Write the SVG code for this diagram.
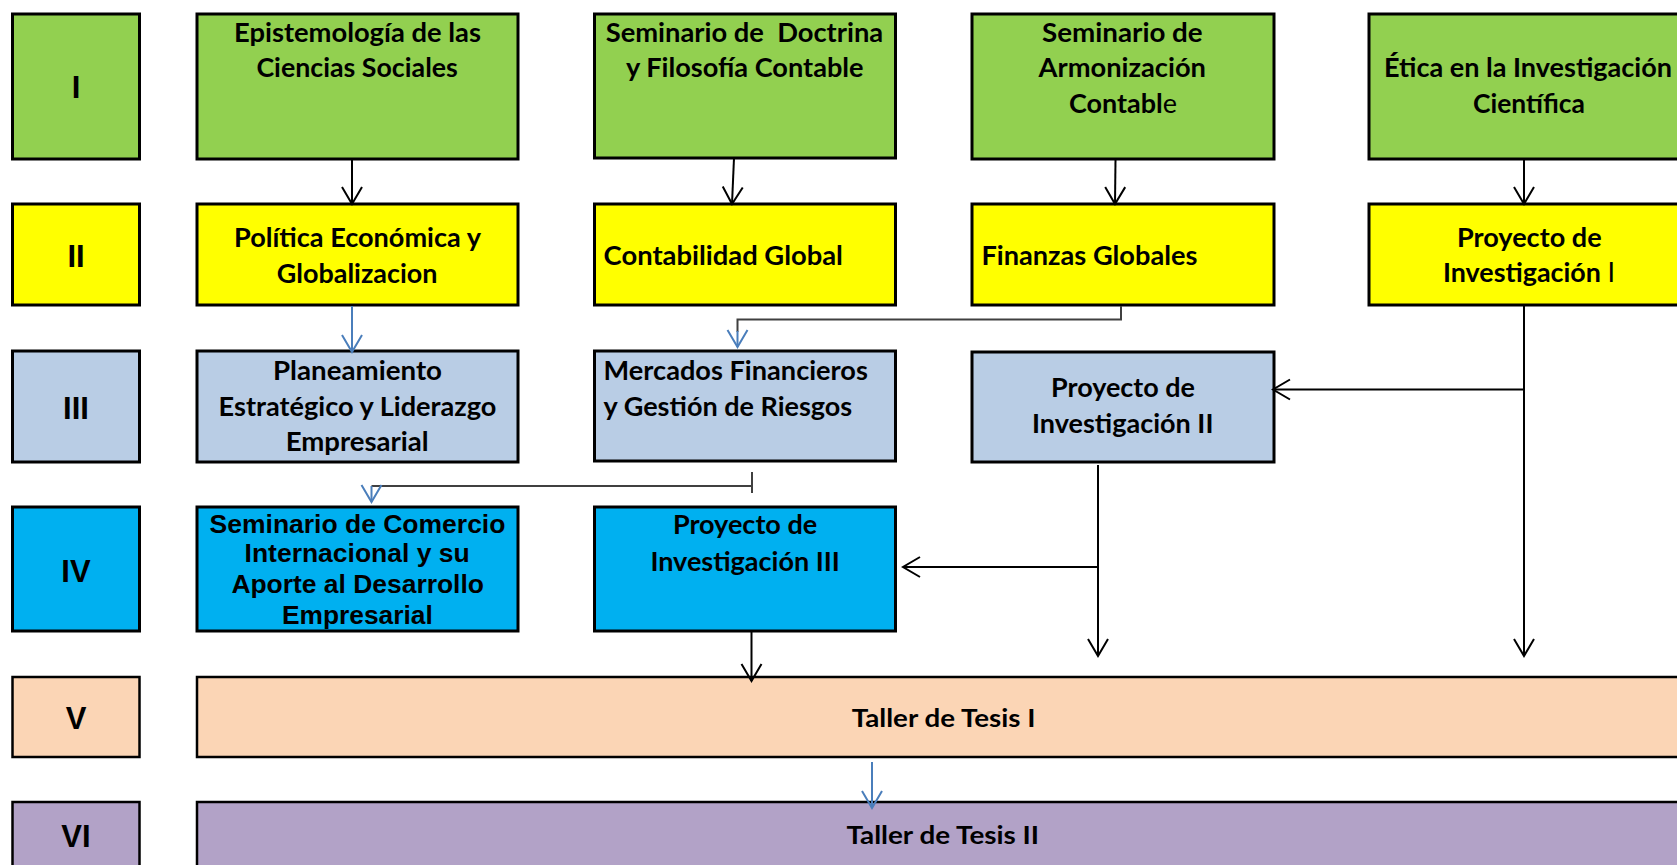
<svg xmlns="http://www.w3.org/2000/svg" width="1677" height="865" viewBox="0 0 1677 865">
<style>
.box{stroke:#000;stroke-width:3}
.g{fill:#92D050}.y{fill:#FFFF00}.lb{fill:#B9CDE5}.cy{fill:#00B0F0}.pe{fill:#FBD5B5}.pu{fill:#B2A2C7}
.t{font-family:Lato,"Open Sans",sans-serif;font-weight:700;font-size:26px;fill:#000}
.a{font-family:"Liberation Sans",Arial,sans-serif;font-weight:700;font-size:25px;fill:#000}
.n{font-family:"Liberation Sans",Arial,sans-serif;font-weight:700;font-size:31px;fill:#000;text-anchor:middle}
.r{font-weight:400}
.c{fill:none;stroke:#000;stroke-width:2}
.cg{fill:none;stroke:#404040;stroke-width:2}
.cb{fill:none;stroke:#4A7EBB;stroke-width:2}
</style>
<defs>
<marker id="ah" viewBox="-22 -12 24 24" refX="0" refY="0" markerWidth="24" markerHeight="24" markerUnits="userSpaceOnUse" orient="auto"><path d="M-17,-10 L0,0 L-17,10" fill="none" stroke="#000" stroke-width="2"/></marker>
<marker id="ahb" viewBox="-22 -12 24 24" refX="0" refY="0" markerWidth="24" markerHeight="24" markerUnits="userSpaceOnUse" orient="auto"><path d="M-17,-10 L0,0 L-17,10" fill="none" stroke="#4A7EBB" stroke-width="2"/></marker>
</defs>
<rect width="1677" height="865" fill="#fff"/>

<g id="sem-I"><rect class="box g" x="12.5" y="14" width="127" height="145"/><text class="n" x="76" y="98.3">I</text></g>
<g id="sem-II"><rect class="box y" x="12.5" y="204" width="127" height="101"/><text class="n" x="76" y="266.7">II</text></g>
<g id="sem-III"><rect class="box lb" x="12.5" y="351" width="127" height="111"/><text class="n" x="76" y="419">III</text></g>
<g id="sem-IV"><rect class="box cy" x="12.5" y="507" width="127" height="124"/><text class="n" x="76" y="582.3">IV</text></g>
<g id="sem-V"><rect class="box pe" x="12.5" y="677" width="127" height="80" style="stroke-width:2.5"/><text class="n" x="76" y="729.3">V</text></g>
<g id="sem-VI"><rect class="box pu" x="12.5" y="802" width="127" height="80" style="stroke-width:2.5"/><text class="n" x="76" y="847.3">VI</text></g>

<g id="epistemologia"><rect class="box g" x="197" y="14" width="321" height="145"/>
<text class="t" x="234" y="41.7" textLength="247" lengthAdjust="spacingAndGlyphs">Epistemología de las</text>
<text class="t" x="256.4" y="77.3" textLength="201.5" lengthAdjust="spacingAndGlyphs">Ciencias Sociales</text></g>
<g id="doctrina"><rect class="box g" x="594.5" y="14" width="301" height="144"/>
<text class="t" x="605.7" y="41.7" textLength="277.5" lengthAdjust="spacingAndGlyphs" xml:space="preserve">Seminario de  Doctrina</text>
<text class="t" x="626" y="77.3" textLength="237.6" lengthAdjust="spacingAndGlyphs">y Filosofía Contable</text></g>
<g id="armonizacion"><rect class="box g" x="972" y="14" width="302" height="145"/>
<text class="t" x="1042" y="41.7" textLength="160.7" lengthAdjust="spacingAndGlyphs">Seminario de</text>
<text class="t" x="1038.6" y="77.3" textLength="167.4" lengthAdjust="spacingAndGlyphs">Armonización</text>
<text class="t" x="1069" y="113.3" textLength="108" lengthAdjust="spacingAndGlyphs">Contabl<tspan class="r">e</tspan></text></g>
<g id="etica"><rect class="box g" x="1369" y="14" width="330" height="145"/>
<text class="t" x="1384" y="77.3" textLength="288" lengthAdjust="spacingAndGlyphs">Ética en la Investigación</text>
<text class="t" x="1473" y="113.3" textLength="112" lengthAdjust="spacingAndGlyphs">Científica</text></g>

<g id="politica"><rect class="box y" x="197" y="204" width="321" height="101"/>
<text class="t" x="234" y="246.7" textLength="247" lengthAdjust="spacingAndGlyphs">Política Económica y</text>
<text class="t" x="276.8" y="282.7" textLength="160.7" lengthAdjust="spacingAndGlyphs">Globalizacion</text></g>
<g id="contabilidad"><rect class="box y" x="594.5" y="204" width="301" height="101"/>
<text class="t" x="603.6" y="265" textLength="239.3" lengthAdjust="spacingAndGlyphs">Contabilidad Global</text></g>
<g id="finanzas"><rect class="box y" x="972" y="204" width="302" height="101"/>
<text class="t" x="981.4" y="265" textLength="216" lengthAdjust="spacingAndGlyphs">Finanzas Globales</text></g>
<g id="proyecto-I"><rect class="box y" x="1369" y="204" width="330" height="101"/>
<text class="t" x="1457" y="246.7" textLength="144.6" lengthAdjust="spacingAndGlyphs">Proyecto de</text>
<text class="t" x="1443" y="281.7" textLength="172" lengthAdjust="spacingAndGlyphs">Investigación <tspan class="r">I</tspan></text></g>

<g id="planeamiento"><rect class="box lb" x="197" y="351" width="321" height="111"/>
<text class="t" x="273" y="380" textLength="169" lengthAdjust="spacingAndGlyphs">Planeamiento</text>
<text class="t" x="218.6" y="415.7" textLength="277.8" lengthAdjust="spacingAndGlyphs">Estratégico y Liderazgo</text>
<text class="t" x="285.7" y="451" textLength="143" lengthAdjust="spacingAndGlyphs">Empresarial</text></g>
<g id="mercados"><rect class="box lb" x="594.5" y="351" width="301" height="110"/>
<text class="t" x="603.6" y="380" textLength="264.3" lengthAdjust="spacingAndGlyphs">Mercados Financieros</text>
<text class="t" x="603.6" y="415.7" textLength="248.6" lengthAdjust="spacingAndGlyphs">y Gestión de Riesgos</text></g>
<g id="proyecto-II"><rect class="box lb" x="972" y="352" width="302" height="110"/>
<text class="t" x="1051" y="397.3" textLength="144" lengthAdjust="spacingAndGlyphs">Proyecto de</text>
<text class="t" x="1032" y="433.3" textLength="181.4" lengthAdjust="spacingAndGlyphs">Investigación II</text></g>

<g id="comercio"><rect class="box cy" x="197" y="507" width="321" height="124"/>
<text class="a" x="209.6" y="532.7" textLength="295.8" lengthAdjust="spacingAndGlyphs">Seminario de Comercio</text>
<text class="a" x="244.6" y="562.3" textLength="225" lengthAdjust="spacingAndGlyphs">Internacional y su</text>
<text class="a" x="231.4" y="593.3" textLength="252.5" lengthAdjust="spacingAndGlyphs">Aporte al Desarrollo</text>
<text class="a" x="282" y="624" textLength="150.7" lengthAdjust="spacingAndGlyphs">Empresarial</text></g>
<g id="proyecto-III"><rect class="box cy" x="594.5" y="507" width="301" height="124"/>
<text class="t" x="672.9" y="534.3" textLength="144.3" lengthAdjust="spacingAndGlyphs">Proyecto de</text>
<text class="t" x="650.4" y="570.7" textLength="189.3" lengthAdjust="spacingAndGlyphs">Investigación III</text></g>

<g id="taller-I"><rect class="box pe" x="197" y="677" width="1500" height="80" style="stroke-width:2.5"/>
<text class="t" x="851.7" y="727.3" textLength="183.7" lengthAdjust="spacingAndGlyphs" style="font-size:25px">Taller de Tesis I</text></g>
<g id="taller-II"><rect class="box pu" x="197" y="802" width="1500" height="80" style="stroke-width:2.5"/>
<text class="t" x="846.4" y="844" textLength="192.7" lengthAdjust="spacingAndGlyphs" style="font-size:25px">Taller de Tesis II</text></g>

<g id="connectors">
<path class="c" d="M352,160 L352,204" marker-end="url(#ah)"/>
<path class="c" d="M734,158 L732,204" marker-end="url(#ah)"/>
<path class="c" d="M1115.5,160 L1115,204" marker-end="url(#ah)"/>
<path class="c" d="M1524,160 L1524,204" marker-end="url(#ah)"/>
<path class="cb" d="M352,306 L352,352" marker-end="url(#ahb)"/>
<path class="cg" d="M1121,306 L1121,319.5 L737.5,319.5 L737.5,332"/>
<path class="cb" d="M737.5,331 L737.5,347" marker-end="url(#ahb)"/>
<path class="cg" d="M752,472 L752,493 M752,486 L371.5,486"/>
<path class="cb" d="M371.5,486 L371.5,502" marker-end="url(#ahb)"/>
<path class="c" d="M1524,306 L1524,656" marker-end="url(#ah)"/>
<path class="c" d="M1524,389.5 L1273,389.5" marker-end="url(#ah)"/>
<path class="c" d="M1098,465 L1098,656" marker-end="url(#ah)"/>
<path class="c" d="M1098,567 L903,567" marker-end="url(#ah)"/>
<path class="c" d="M751.5,632 L751.5,681" marker-end="url(#ah)"/>
<path class="cb" d="M872,762 L872,808" marker-end="url(#ahb)"/>
</g>
</svg>
